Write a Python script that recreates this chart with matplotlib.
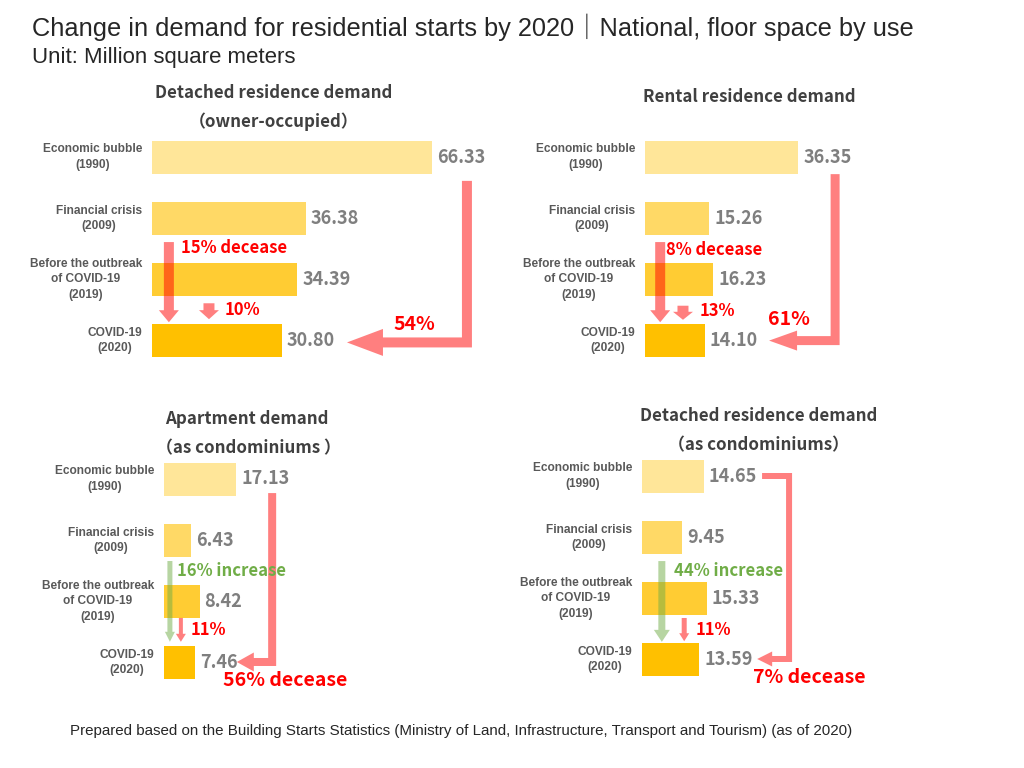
import matplotlib
matplotlib.use("Agg")
import matplotlib.pyplot as plt
from matplotlib.patches import Polygon

# data (million square meters)
categories = ["Economic bubble\n(1990)", "Financial crisis\n(2009)",
              "Before the outbreak\nof COVID-19\n(2019)", "COVID-19\n(2020)"]
detached_owner = [66.33, 36.38, 34.39, 30.80]
rental = [36.35, 15.26, 16.23, 14.10]
apartment = [17.13, 6.43, 8.42, 7.46]
detached_condo = [14.65, 9.45, 15.33, 13.59]

bar_colors = ["#FFE699", "#FFD966", "#FFCC33", "#FFC000"]
RED = "#FF0000"
GREEN = "#70AD47"
GRAY = "#7F7F7F"
DARK = "#404040"
JP = ["Noto Sans CJK JP", "DejaVu Sans"]
AR = ["Liberation Sans", "Noto Sans CJK JP", "DejaVu Sans"]

W, H = 1024, 768
K = 4.22   # px per unit
S = 61.2   # px per row

fig = plt.figure(figsize=(10.24, 7.68), dpi=100)


def ftext(x, y, s, **kw):
    fig.text(x / W, 1 - y / H, s, **kw)


def make_panel(x0, yc0, values):
    width_px = 380
    top = yc0 - 0.75 * S
    bot = yc0 + 3.75 * S
    ax = fig.add_axes([x0 / W, 1 - bot / H, width_px / W, (bot - top) / H])
    ax.set_xlim(0, width_px / K)
    ax.set_ylim(3.75, -0.75)
    ax.axis("off")
    rows = range(len(values))
    ax.barh(list(rows), values, height=33 / S, color=bar_colors, zorder=1)
    for i, v in enumerate(values):
        ax.text(v + 5 / K, i, f"{v:.2f}", va="center", ha="left",
                color=GRAY, fontsize=13, fontweight="bold", family=JP, zorder=4)
        ax.text(-10 / K, i, categories[i], va="center", ha="right",
                multialignment="center", color="#595959", fontsize=8.6,
                fontweight="bold", family=AR, linespacing=1.35, clip_on=False)
    return ax


def down_arrow(ax, x, y0, y1, w, hw, hl, color):
    w, hw, hl = w / K, hw / K, hl / S
    pts = [(x - w / 2, y0), (x + w / 2, y0), (x + w / 2, y1 - hl),
           (x + hw / 2, y1 - hl), (x, y1), (x - hw / 2, y1 - hl),
           (x - w / 2, y1 - hl)]
    ax.add_patch(Polygon(pts, closed=True, facecolor=color, edgecolor="none",
                         alpha=0.5, zorder=2, clip_on=False))


def elbow_arrow(ax, xv, ytop, yh, xt, w, hw, hl, xs=None):
    wx, wy = w / K, w / S
    hwy, hlx = hw / S, hl / K
    if xs is None:
        pts = [(xv - wx / 2, ytop), (xv + wx / 2, ytop)]
    else:
        pts = [(xs, ytop - wy / 2), (xv + wx / 2, ytop - wy / 2)]
    pts += [(xv + wx / 2, yh + wy / 2), (xt + hlx, yh + wy / 2),
            (xt + hlx, yh + hwy / 2), (xt, yh), (xt + hlx, yh - hwy / 2),
            (xt + hlx, yh - wy / 2), (xv - wx / 2, yh - wy / 2)]
    if xs is None:
        pts += [(xv - wx / 2, ytop)]
    else:
        pts += [(xv - wx / 2, ytop + wy / 2), (xs, ytop + wy / 2)]
    ax.add_patch(Polygon(pts, closed=True, facecolor=RED, edgecolor="none",
                         alpha=0.5, zorder=2, clip_on=False))


def pct(ax, x, y, s, color=RED, size=12, ha="left"):
    ax.text(x, y, s, color=color, fontsize=size, fontweight="bold",
            family=JP, ha=ha, va="center", zorder=5, clip_on=False)


# headers
ftext(32, 27, "Change in demand for residential starts by 2020｜National, floor space by use",
      fontsize=18.3, color="#262626", family=AR, va="center")
ftext(32, 57, "Unit: Million square meters", fontsize=16, color="#262626",
      family=AR, va="center")
ftext(70, 731, "Prepared based on the Building Starts Statistics (Ministry of Land, "
      "Infrastructure, Transport and Tourism) (as of 2020)",
      fontsize=10.9, color="#262626", family=AR, va="center")

tkw = dict(fontsize=12.2, fontweight="bold", color=DARK, family=JP,
           ha="center", va="center")
ftext(274, 93, "Detached residence demand", **tkw)
ftext(274, 122, "（owner-occupied）", **tkw)
ftext(749, 97, "Rental residence demand", **tkw)
ftext(247, 419, "Apartment demand", **tkw)
ftext(248, 448, "（as condominiums ）", **tkw)
ftext(759, 416, "Detached residence demand", **tkw)
ftext(759, 445, "（as condominiums）", **tkw)

# panel 1: detached, owner-occupied
ax1 = make_panel(152, 157, detached_owner)
elbow_arrow(ax1, detached_owner[0] + 8.3, 0.39, 3.03, detached_owner[3] + 15.4, 10, 27, 36)
pct(ax1, 62.1, 2.73, "54%", size=14, ha="center")
down_arrow(ax1, 4.0, 1.39, 2.70, 10, 20, 12, RED)
pct(ax1, 6.9, 1.49, "15% decease")
down_arrow(ax1, 13.5, 2.39, 2.65, 11, 20, 9, RED)
pct(ax1, 17.1, 2.5, "10%")

# panel 2: rental
ax2 = make_panel(645, 157, rental)
elbow_arrow(ax2, rental[0] + 8.7, 0.28, 3.0, rental[3] + 15.3, 9, 20, 28)
pct(ax2, 34.1, 2.66, "61%", size=14, ha="center")
down_arrow(ax2, 3.6, 1.39, 2.70, 10, 20, 12, RED)
pct(ax2, 5.0, 1.52, "8% decease")
down_arrow(ax2, 9.0, 2.43, 2.66, 11, 20, 8, RED)
pct(ax2, 13.0, 2.52, "13%")

# panel 3: apartment
ax3 = make_panel(164, 479, apartment)
elbow_arrow(ax3, apartment[0] + 8.5, 0.23, 2.99, apartment[3] + 9.8, 8, 19, 17)
pct(ax3, 28.8, 3.30, "56% decease", size=14, ha="center")
down_arrow(ax3, 1.4, 1.34, 2.66, 5, 10, 10, GREEN)
pct(ax3, 3.1, 1.5, "16% increase", color=GREEN)
down_arrow(ax3, 4.0, 2.27, 2.66, 4, 10, 8, RED)
pct(ax3, 6.4, 2.47, "11%")

# panel 4: detached, condominiums
ax4 = make_panel(642, 476, detached_condo)
elbow_arrow(ax4, detached_condo[0] + 20.2, 0.0, 2.99, detached_condo[3] + 13.7, 6, 15, 15,
            xs=detached_condo[0] + 13.8)
pct(ax4, 39.6, 3.30, "7% decease", size=14, ha="center")
down_arrow(ax4, 4.7, 1.39, 2.71, 7, 16, 12, GREEN)
pct(ax4, 7.6, 1.55, "44% increase", color=GREEN)
down_arrow(ax4, 10.0, 2.32, 2.70, 5, 10, 8, RED)
pct(ax4, 12.8, 2.52, "11%")

fig.savefig("out.png", dpi=100)
